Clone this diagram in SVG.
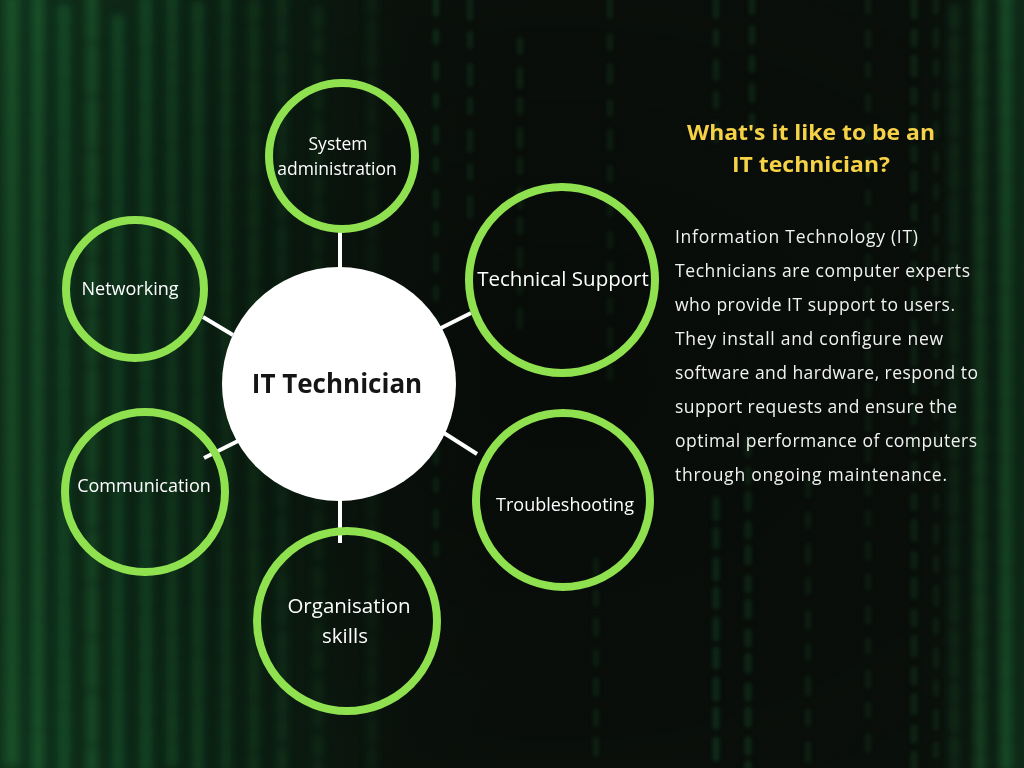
<svg xmlns="http://www.w3.org/2000/svg" width="1024" height="768" viewBox="0 0 1024 768">
  <defs>
    <filter id="soft" x="-50%" y="-5%" width="200%" height="110%">
      <feGaussianBlur stdDeviation="4.5"/>
    </filter>
    <filter id="softer" x="-50%" y="-5%" width="200%" height="110%">
      <feGaussianBlur stdDeviation="2.2"/>
    </filter>
    <linearGradient id="glow" x1="0" y1="0" x2="1" y2="0">
      <stop offset="0" stop-color="#16502a" stop-opacity="0.55"/>
      <stop offset="0.3" stop-color="#0f3a1e" stop-opacity="0.3"/>
      <stop offset="0.5" stop-color="#0b100c" stop-opacity="0"/>
      <stop offset="0.88" stop-color="#0b100c" stop-opacity="0"/>
      <stop offset="1" stop-color="#16502a" stop-opacity="0.45"/>
    </linearGradient>
    <radialGradient id="vignette" cx="0.55" cy="0.5" r="0.75">
      <stop offset="0" stop-color="#050806" stop-opacity="0.5"/>
      <stop offset="0.6" stop-color="#050806" stop-opacity="0.2"/>
      <stop offset="1" stop-color="#050806" stop-opacity="0"/>
    </radialGradient>
    <style>
      .rain { fill: none; stroke-linecap: round; }
      .skill { fill: none; stroke: #8fe14f; stroke-width: 8; }
      .hub { fill: #ffffff; }
      .link { stroke: #ffffff; stroke-width: 4; }
      .label { font-family: "Open Sans", "Liberation Sans", sans-serif; font-size: 18px; fill: #ffffff; text-anchor: middle; }
      .hub-label { font-family: "Open Sans", "Liberation Sans", sans-serif; font-size: 26px; font-weight: 700; fill: #151515; text-anchor: middle; }
      .title { font-family: "Open Sans", "Liberation Sans", sans-serif; font-size: 22px; font-weight: 700; fill: #f6d247; text-anchor: middle; }
      .body { font-family: "Open Sans", "Liberation Sans", sans-serif; font-size: 17.5px; fill: #f2f2f2; }
    </style>
  </defs>

  <!-- dark backdrop -->
  <rect width="1024" height="768" fill="#0b100c"/>
  <rect width="1024" height="768" fill="url(#glow)"/>

  <!-- blurred falling-code columns -->
  <g id="code-rain">
    <g filter="url(#soft)" class="rain" stroke="#1f7a3c">
      <line x1="12" y1="0" x2="12" y2="768" stroke-width="14" stroke-dasharray="22 6 12 8" opacity="0.45"/>
      <line x1="38" y1="-20" x2="38" y2="768" stroke-width="12" stroke-dasharray="18 8 24 6" opacity="0.5"/>
      <line x1="64" y1="10" x2="64" y2="768" stroke-width="13" stroke-dasharray="14 10 20 8" opacity="0.4"/>
      <line x1="92" y1="-5" x2="92" y2="768" stroke-width="12" stroke-dasharray="20 6 16 12" opacity="0.45"/>
      <line x1="118" y1="20" x2="118" y2="768" stroke-width="12" stroke-dasharray="16 8 22 8" opacity="0.4"/>
      <line x1="146" y1="0" x2="146" y2="768" stroke-width="13" stroke-dasharray="24 8 14 10" opacity="0.4"/>
      <line x1="172" y1="-12" x2="172" y2="768" stroke-width="12" stroke-dasharray="18 8 18 10" opacity="0.35"/>
      <line x1="198" y1="6" x2="198" y2="768" stroke-width="12" stroke-dasharray="16 10 20 6" opacity="0.35"/>
      <line x1="226" y1="-8" x2="226" y2="768" stroke-width="11" stroke-dasharray="22 10 14 10" opacity="0.3"/>
      <line x1="254" y1="4" x2="254" y2="768" stroke-width="11" stroke-dasharray="14 12 18 8" opacity="0.28"/>
      <line x1="282" y1="-4" x2="282" y2="768" stroke-width="10" stroke-dasharray="20 10 16 12" opacity="0.25"/>
      <line x1="318" y1="10" x2="318" y2="768" stroke-width="10" stroke-dasharray="16 12 14 14" opacity="0.2"/>
      <line x1="372" y1="-6" x2="372" y2="768" stroke-width="10" stroke-dasharray="18 12 16 10" opacity="0.16"/>
      <line x1="980" y1="0" x2="980" y2="768" stroke-width="12" stroke-dasharray="20 8 16 10" opacity="0.45"/>
      <line x1="1006" y1="-10" x2="1006" y2="768" stroke-width="13" stroke-dasharray="16 10 22 8" opacity="0.5"/>
      <line x1="954" y1="8" x2="954" y2="768" stroke-width="10" stroke-dasharray="18 12 14 10" opacity="0.25"/>
    </g>
    <g filter="url(#softer)" class="rain" stroke="#1c6a34">
      <line x1="436" y1="0" x2="436" y2="560" stroke-width="6" stroke-dasharray="14 18 10 22" opacity="0.35"/>
      <line x1="470" y1="0" x2="470" y2="220" stroke-width="6" stroke-dasharray="18 16 12 20" opacity="0.3"/>
      <line x1="520" y1="40" x2="520" y2="330" stroke-width="6" stroke-dasharray="12 18 16 14" opacity="0.28"/>
      <line x1="610" y1="0" x2="610" y2="390" stroke-width="6" stroke-dasharray="16 20 12 18" opacity="0.25"/>
      <line x1="596" y1="560" x2="596" y2="768" stroke-width="6" stroke-dasharray="14 18 12 16" opacity="0.25"/>
      <line x1="716" y1="0" x2="716" y2="140" stroke-width="6" stroke-dasharray="16 16 12 18" opacity="0.3"/>
      <line x1="716" y1="500" x2="716" y2="768" stroke-width="7" stroke-dasharray="18 12 16 14" opacity="0.4"/>
      <line x1="748" y1="440" x2="748" y2="768" stroke-width="7" stroke-dasharray="14 16 12 12" opacity="0.35"/>
      <line x1="752" y1="0" x2="752" y2="130" stroke-width="6" stroke-dasharray="12 16 14 16" opacity="0.3"/>
      <line x1="808" y1="480" x2="808" y2="768" stroke-width="6" stroke-dasharray="16 18 12 20" opacity="0.22"/>
      <line x1="868" y1="0" x2="868" y2="768" stroke-width="6" stroke-dasharray="12 20 14 18" opacity="0.2"/>
      <line x1="914" y1="0" x2="914" y2="768" stroke-width="7" stroke-dasharray="16 16 12 14" opacity="0.25"/>
      <line x1="936" y1="0" x2="936" y2="768" stroke-width="6" stroke-dasharray="12 18 16 16" opacity="0.2"/>
    </g>
    <rect width="1024" height="768" fill="url(#vignette)"/>
  </g>

  <!-- spokes from the hub to each skill -->
  <g id="connectors">
    <line class="link" x1="340" y1="228" x2="340" y2="268"/>
    <line class="link" x1="340" y1="499" x2="340" y2="543"/>
    <line class="link" x1="203" y1="317" x2="233" y2="335"/>
    <line class="link" x1="204" y1="458" x2="238" y2="441"/>
    <line class="link" x1="441" y1="328" x2="471" y2="313"/>
    <line class="link" x1="444" y1="433" x2="477" y2="454"/>
  </g>

  <g id="hub">
    <circle class="hub" cx="339" cy="384" r="117"/>
    <text class="hub-label" x="337" y="393">IT Technician</text>
  </g>

  <g id="node-system-administration">
    <circle class="skill" cx="342" cy="156" r="73"/>
    <text class="label" x="338" y="150" style="font-size:17.5px">System</text>
    <text class="label" x="337" y="175" style="font-size:17.5px">administration</text>
  </g>

  <g id="node-networking">
    <circle class="skill" cx="135" cy="289" r="69"/>
    <text class="label" x="130" y="295">Networking</text>
  </g>

  <g id="node-communication">
    <circle class="skill" cx="145" cy="492" r="80"/>
    <text class="label" x="144" y="492">Communication</text>
  </g>

  <g id="node-technical-support">
    <circle class="skill" cx="562" cy="280" r="93"/>
    <text class="label" x="563" y="286" style="font-size:20.5px">Technical Support</text>
  </g>

  <g id="node-troubleshooting">
    <circle class="skill" cx="563" cy="500" r="87"/>
    <text class="label" x="565" y="511">Troubleshooting</text>
  </g>

  <g id="node-organisation-skills">
    <circle class="skill" cx="347" cy="621" r="90"/>
    <text class="label" x="349" y="613" style="font-size:20.5px">Organisation</text>
    <text class="label" x="345" y="643" style="font-size:20.5px">skills</text>
  </g>

  <!-- side description -->
  <g id="description">
    <text class="title" x="811" y="140" textLength="248" lengthAdjust="spacingAndGlyphs">What's it like to be an</text>
    <text class="title" x="811" y="172" textLength="158" lengthAdjust="spacingAndGlyphs">IT technician?</text>
    <text class="body" x="675" y="243" textLength="243" lengthAdjust="spacing">Information Technology (IT)</text>
    <text class="body" x="675" y="277" textLength="295" lengthAdjust="spacing">Technicians are computer experts</text>
    <text class="body" x="675" y="311" textLength="280" lengthAdjust="spacing">who provide IT support to users.</text>
    <text class="body" x="675" y="345" textLength="268" lengthAdjust="spacing">They install and configure new</text>
    <text class="body" x="675" y="379" textLength="303" lengthAdjust="spacing">software and hardware, respond to</text>
    <text class="body" x="675" y="413" textLength="282" lengthAdjust="spacing">support requests and ensure the</text>
    <text class="body" x="675" y="447" textLength="302" lengthAdjust="spacing">optimal performance of computers</text>
    <text class="body" x="675" y="481" textLength="272" lengthAdjust="spacing">through ongoing maintenance.</text>
  </g>
</svg>
